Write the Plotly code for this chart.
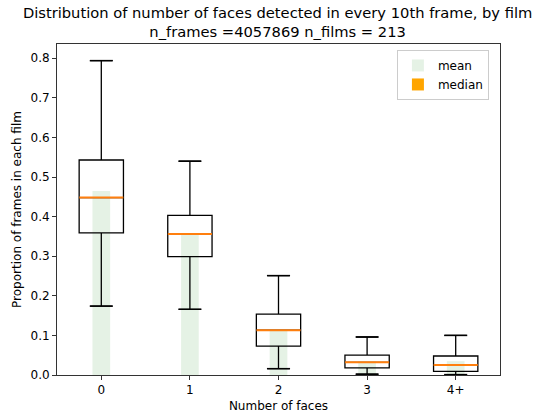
import plotly.graph_objects as go

categories = ["0", "1", "2", "3", "4+"]
q1 = [0.359, 0.299, 0.073, 0.018, 0.009]
median = [0.448, 0.356, 0.113, 0.032, 0.025]
q3 = [0.543, 0.403, 0.154, 0.050, 0.048]
lower_whisker = [0.174, 0.166, 0.016, 0.002, 0.001]
upper_whisker = [0.794, 0.540, 0.251, 0.096, 0.100]
means = [0.465, 0.354, 0.112, 0.034, 0.035]

n_frames = 4057869
n_films = 213

fig = go.Figure()

# mean bars (light, behind)
fig.add_trace(go.Bar(
    x=categories, y=means, width=0.2, name="mean",
    marker=dict(color="rgba(0,128,0,0.1)", line=dict(width=0)),
    showlegend=True,
))
# legend entry for median
fig.add_trace(go.Bar(
    x=[None], y=[None], name="median",
    marker=dict(color="#ffa500", line=dict(width=0)),
    showlegend=True,
))

# boxes
fig.add_trace(go.Box(
    x=categories, q1=q1, median=median, q3=q3,
    lowerfence=lower_whisker, upperfence=upper_whisker,
    width=0.5, fillcolor="rgba(0,0,0,0)",
    line=dict(color="black", width=1.3),
    showlegend=False, hoverinfo="skip",
))

# whisker caps
fig.add_trace(go.Scatter(
    x=categories + categories, y=lower_whisker + upper_whisker,
    mode="markers",
    marker=dict(symbol="line-ew", size=16.5, line=dict(color="black", width=1.5)),
    showlegend=False, hoverinfo="skip",
))
# orange medians
fig.add_trace(go.Scatter(
    x=categories, y=median, mode="markers",
    marker=dict(symbol="line-ew", size=31.5, line=dict(color="#ff7f0e", width=2)),
    showlegend=False, hoverinfo="skip",
))

fig.update_layout(
    width=537, height=417,
    margin=dict(l=57, r=37, t=44, b=42),
    paper_bgcolor="white", plot_bgcolor="white",
    barmode="overlay", boxmode="overlay",
    font=dict(family="DejaVu Sans", size=12, color="black"),
    title=dict(
        text=f"Distribution of number of faces detected in every 10th frame, by film<br>n_frames ={n_frames} n_films = {n_films}",
        x=0.517, xref="container", xanchor="center",
        y=0.958, yref="container", yanchor="top",
        font=dict(size=14.7, color="black"),
    ),
    legend=dict(
        x=0.975, xanchor="right", y=0.982, yanchor="top",
        bordercolor="#cccccc", borderwidth=1, bgcolor="white",
        font=dict(size=12), tracegroupgap=0,
    ),
    showlegend=True,
)
fig.update_xaxes(
    type="category", range=[-0.5, 4.5], automargin=False,
    showline=True, linecolor="#333", linewidth=1, mirror=True,
    ticks="outside", ticklen=4, tickcolor="#333", showgrid=False,
    tickfont=dict(size=12),
    title=dict(text="Number of faces", standoff=5, font=dict(size=12)),
)
fig.update_yaxes(
    range=[0, 0.836], tickvals=[0, 0.1, 0.2, 0.3, 0.4, 0.5, 0.6, 0.7, 0.8],
    tickformat=".1f", automargin=False,
    showline=True, linecolor="#333", linewidth=1, mirror=True,
    ticks="outside", ticklen=4, tickcolor="#333", showgrid=False, zeroline=False,
    tickfont=dict(size=12),
    title=dict(text="Proportion of frames in each film", standoff=6, font=dict(size=12)),
)

fig.write_html("out.html", config={"displayModeBar": False},
               post_script="document.body.style.margin='0';")
